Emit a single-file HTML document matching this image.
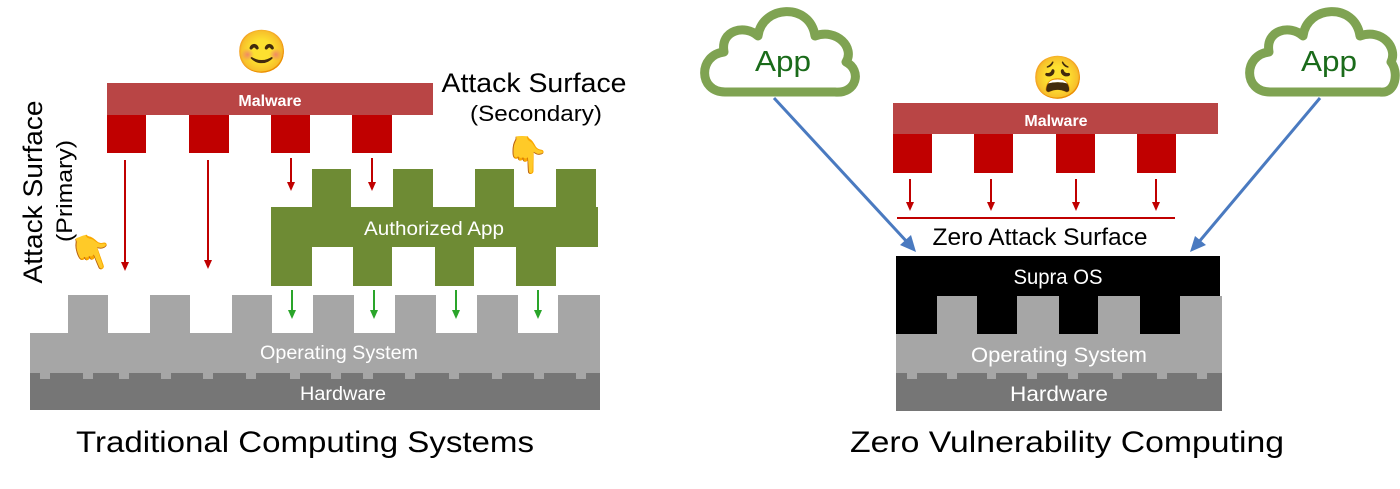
<!DOCTYPE html>
<html><head><meta charset="utf-8"><style>
html,body{margin:0;padding:0;background:#fff;width:1400px;height:489px;overflow:hidden}
svg text{font-family:"Liberation Sans",sans-serif}
</style></head><body>
<svg width="1400" height="489" viewBox="0 0 1400 489" xmlns="http://www.w3.org/2000/svg">
<!-- LEFT -->
<rect x="30" y="372" width="570" height="38" fill="#767676"/>
<rect x="30" y="333" width="570" height="40" fill="#a6a6a6"/>
<g fill="#a6a6a6">
<rect x="68" y="295" width="40" height="40"/><rect x="150" y="295" width="40" height="40"/><rect x="232" y="295" width="40" height="40"/><rect x="313" y="295" width="41" height="40"/><rect x="395" y="295" width="41" height="40"/><rect x="477" y="295" width="41" height="40"/><rect x="558" y="295" width="42" height="40"/>
<rect x="40" y="372" width="10" height="7"/><rect x="83" y="372" width="10" height="7"/><rect x="119" y="372" width="10" height="7"/><rect x="161" y="372" width="10" height="7"/><rect x="203" y="372" width="10" height="7"/><rect x="246" y="372" width="10" height="7"/><rect x="290" y="372" width="10" height="7"/><rect x="331" y="372" width="10" height="7"/><rect x="363" y="372" width="10" height="7"/><rect x="405" y="372" width="10" height="7"/><rect x="449" y="372" width="10" height="7"/><rect x="492" y="372" width="10" height="7"/><rect x="534" y="372" width="10" height="7"/><rect x="576" y="372" width="10" height="7"/>
</g>
<text x="339" y="359" font-size="19" fill="#fff" text-anchor="middle" textLength="158" lengthAdjust="spacingAndGlyphs">Operating System</text>
<text x="343" y="400" font-size="19" fill="#fff" text-anchor="middle" textLength="86" lengthAdjust="spacingAndGlyphs">Hardware</text>
<g fill="#6e8b34">
<rect x="271" y="207" width="327" height="40"/>
<rect x="312" y="169" width="39" height="40"/><rect x="393" y="169" width="40" height="40"/><rect x="475" y="169" width="39" height="40"/><rect x="556" y="169" width="40" height="40"/>
<rect x="271" y="245" width="41" height="41"/><rect x="353" y="245" width="39" height="41"/><rect x="435" y="245" width="39" height="41"/><rect x="516" y="245" width="40" height="41"/>
</g>
<text x="434" y="235" font-size="19" fill="#fff" text-anchor="middle" textLength="140" lengthAdjust="spacingAndGlyphs">Authorized App</text>
<g stroke="#2aa52a" stroke-width="2" fill="#2aa52a">
<line x1="292" y1="290" x2="292" y2="312"/><path d="M288,310 L296,310 L292,319z" stroke="none"/>
<line x1="374" y1="290" x2="374" y2="312"/><path d="M370,310 L378,310 L374,319z" stroke="none"/>
<line x1="456" y1="290" x2="456" y2="312"/><path d="M452,310 L460,310 L456,319z" stroke="none"/>
<line x1="538" y1="290" x2="538" y2="312"/><path d="M534,310 L542,310 L538,319z" stroke="none"/>
</g>
<rect x="107" y="83" width="326" height="32" fill="#b94545"/>
<g fill="#c00000"><rect x="107" y="115" width="39" height="38"/><rect x="189" y="115" width="40" height="38"/><rect x="271" y="115" width="39" height="38"/><rect x="352" y="115" width="40" height="38"/></g>
<text x="270" y="106" font-size="16" font-weight="bold" fill="#fff" text-anchor="middle">Malware</text>
<g stroke="#c00000" stroke-width="2" fill="#c00000">
<line x1="125" y1="160" x2="125" y2="264"/><path d="M121,262 L129,262 L125,271z" stroke="none"/>
<line x1="208" y1="160" x2="208" y2="262"/><path d="M204,260 L212,260 L208,269z" stroke="none"/>
<line x1="291" y1="158" x2="291" y2="184"/><path d="M287,182 L295,182 L291,191z" stroke="none"/>
<line x1="372" y1="158" x2="372" y2="184"/><path d="M368,182 L376,182 L372,191z" stroke="none"/>
</g>
<text x="262" y="66" font-size="42" text-anchor="middle" font-family="DejaVu Sans">😊</text>
<text x="534" y="92" font-size="27" text-anchor="middle" textLength="185" lengthAdjust="spacingAndGlyphs">Attack Surface</text>
<text x="536" y="121" font-size="22" text-anchor="middle" textLength="132" lengthAdjust="spacingAndGlyphs">(Secondary)</text>
<text x="527" y="167" font-size="36" text-anchor="middle" font-family="DejaVu Sans">👇</text>
<text transform="translate(42,192) rotate(-90)" font-size="27" text-anchor="middle" textLength="183" lengthAdjust="spacingAndGlyphs">Attack Surface</text>
<text transform="translate(72,191) rotate(-90)" font-size="22" text-anchor="middle" textLength="102" lengthAdjust="spacingAndGlyphs">(Primary)</text>
<text transform="translate(96,264) rotate(-20)" font-size="36" text-anchor="middle" font-family="DejaVu Sans">👇</text>
<text x="305" y="452" font-size="30" text-anchor="middle" textLength="458" lengthAdjust="spacingAndGlyphs">Traditional Computing Systems</text>

<!-- RIGHT -->
<rect x="896" y="372" width="326" height="39" fill="#767676"/>
<rect x="896" y="334" width="326" height="39" fill="#a6a6a6"/>
<g fill="#a6a6a6"><rect x="907" y="372" width="10" height="7"/><rect x="947" y="372" width="10" height="7"/><rect x="987" y="372" width="9" height="7"/><rect x="1027" y="372" width="10" height="7"/><rect x="1068" y="372" width="10" height="7"/><rect x="1113" y="372" width="9" height="7"/><rect x="1157" y="372" width="10" height="7"/><rect x="1197" y="372" width="10" height="7"/></g>
<rect x="896" y="256" width="324" height="40" fill="#000"/>
<g fill="#000"><rect x="896" y="294" width="41" height="40"/><rect x="977" y="294" width="40" height="40"/><rect x="1059" y="294" width="39" height="40"/><rect x="1140" y="294" width="40" height="40"/></g>
<g fill="#a6a6a6"><rect x="937" y="296" width="40" height="38"/><rect x="1017" y="296" width="42" height="38"/><rect x="1098" y="296" width="42" height="38"/><rect x="1180" y="296" width="42" height="38"/></g>
<text x="1058" y="284" font-size="21" fill="#fff" text-anchor="middle" textLength="89" lengthAdjust="spacingAndGlyphs">Supra OS</text>
<text x="1059" y="362" font-size="21" fill="#fff" text-anchor="middle" textLength="176" lengthAdjust="spacingAndGlyphs">Operating System</text>
<text x="1059" y="401" font-size="21" fill="#fff" text-anchor="middle" textLength="98" lengthAdjust="spacingAndGlyphs">Hardware</text>
<rect x="893" y="103" width="325" height="31" fill="#b94545"/>
<g fill="#c00000"><rect x="893" y="134" width="39" height="39"/><rect x="974" y="134" width="39" height="39"/><rect x="1056" y="134" width="39" height="39"/><rect x="1137" y="134" width="39" height="39"/></g>
<text x="1056" y="126" font-size="16" font-weight="bold" fill="#fff" text-anchor="middle">Malware</text>
<g stroke="#c00000" stroke-width="2" fill="#c00000">
<line x1="910" y1="179" x2="910" y2="204"/><path d="M906,202 L914,202 L910,211z" stroke="none"/>
<line x1="991" y1="179" x2="991" y2="204"/><path d="M987,202 L995,202 L991,211z" stroke="none"/>
<line x1="1076" y1="179" x2="1076" y2="204"/><path d="M1072,202 L1080,202 L1076,211z" stroke="none"/>
<line x1="1156" y1="179" x2="1156" y2="204"/><path d="M1152,202 L1160,202 L1156,211z" stroke="none"/>
<line x1="897" y1="218" x2="1175" y2="218"/>
</g>
<text x="1040" y="245" font-size="24" text-anchor="middle" textLength="215" lengthAdjust="spacingAndGlyphs">Zero Attack Surface</text>
<text x="1058" y="92" font-size="42" text-anchor="middle" font-family="DejaVu Sans">😩</text>
<g fill="#fff" stroke="#7fa352" stroke-width="9" stroke-linejoin="round">
<path d="M725,92 C698,92 698,55 724,52 C720,30 745,24 758,36 C762,5 810,2 815,36 C837,28 855,48 846,62 C862,70 857,94 835,92 Z"/>
<path d="M1270,92 C1243,92 1243,55 1269,52 C1265,30 1290,24 1303,36 C1307,5 1355,2 1360,36 C1382,28 1398,48 1391,62 C1399,72 1396,94 1380,92 Z"/>
</g>
<text x="783" y="71" font-size="29" fill="#1a6b1a" text-anchor="middle" textLength="56" lengthAdjust="spacingAndGlyphs">App</text>
<text x="1329" y="71" font-size="29" fill="#1a6b1a" text-anchor="middle" textLength="56" lengthAdjust="spacingAndGlyphs">App</text>
<g stroke="#4a7ac0" stroke-width="3" fill="#4a7ac0">
<line x1="774" y1="98" x2="908" y2="243"/><path d="M916,252 L900,245 L911,235z" stroke="none"/>
<line x1="1320" y1="98" x2="1198" y2="243"/><path d="M1190,252 L1195,236 L1206,245z" stroke="none"/>
</g>
<text x="1067" y="452" font-size="30" text-anchor="middle" textLength="434" lengthAdjust="spacingAndGlyphs">Zero Vulnerability Computing</text>
</svg>
</body></html>
